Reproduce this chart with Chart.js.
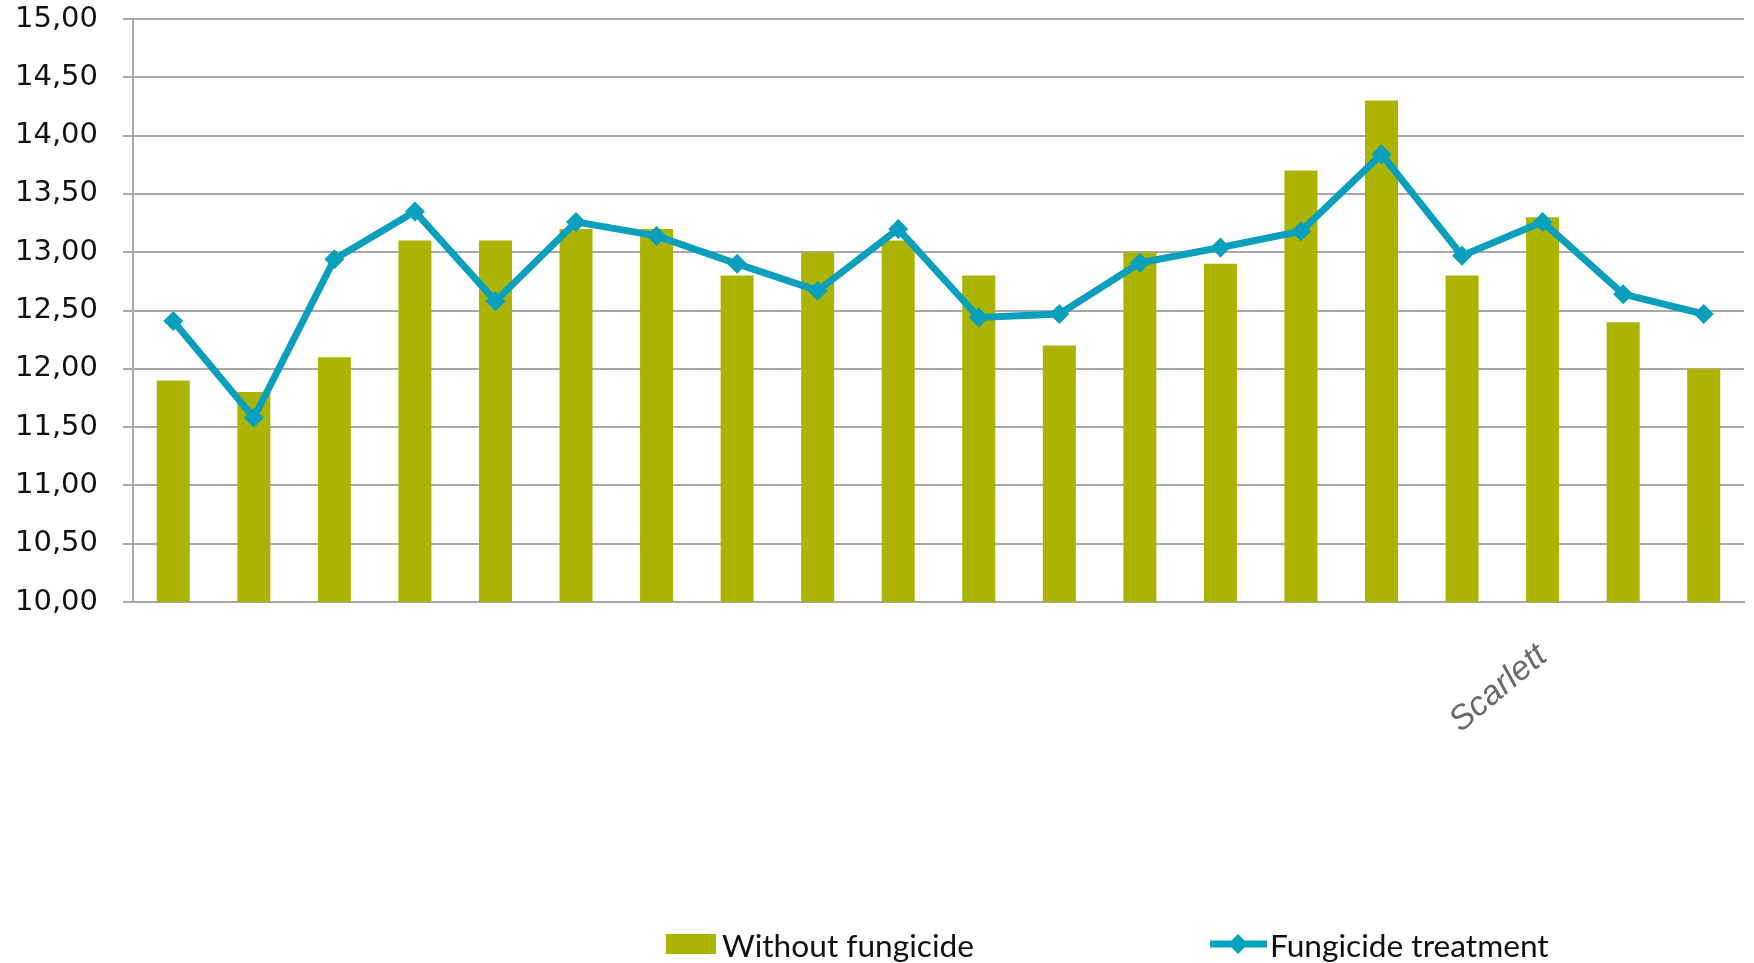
<!DOCTYPE html>
<html><head><meta charset="utf-8">
<script src="https://cdn.jsdelivr.net/npm/chart.js@4.4.1/dist/chart.umd.min.js"></script>
<style>html,body{margin:0;padding:0;background:#fff;}#wrap{width:1754px;height:963px;position:relative;}</style>
</head><body><div id="wrap"><canvas id="c" width="1754" height="963"></canvas></div>
<script>
const categories = ['', '', '', '', '', '', '', '', '', '', '', '', '', '', '', '', '', 'Scarlett', '', ''];
const withoutFungicide = [11.90, 11.80, 12.10, 13.10, 13.10, 13.20, 13.20, 12.80, 13.00, 13.10, 12.80, 12.20, 13.00, 12.90, 13.70, 14.30, 12.80, 13.30, 12.40, 12.00];
const fungicideTreatment = [12.41, 11.58, 12.94, 13.35, 12.58, 13.26, 13.14, 12.90, 12.67, 13.20, 12.44, 12.47, 12.91, 13.04, 13.18, 13.84, 12.97, 13.26, 12.64, 12.47];
const seriesNames = ['Without fungicide', 'Fungicide treatment'];
const yMin = 10, yMax = 15, yStep = 0.5;

const BAR_COLOR = '#abb400';
const LINE_COLOR = '#0aa0bd';
const GRID_COLOR = '#a8a8a8';

const legendPlugin = {
  id: 'customLegend',
  afterDraw(chart) {
    const ctx = chart.ctx;
    ctx.save();
    const cy = 947;
    let size = 30;
    ctx.font = size + 'px Lato';
    const w = ctx.measureText(seriesNames[0]).width;
    size = size * 252 / w;
    ctx.font = size + 'px Lato';
    ctx.fillStyle = BAR_COLOR;
    ctx.fillRect(666, cy - 13, 50, 20);
    ctx.fillStyle = '#111';
    ctx.textBaseline = 'middle';
    ctx.textAlign = 'left';
    ctx.fillText(seriesNames[0], 722, cy);
    ctx.strokeStyle = LINE_COLOR;
    ctx.lineWidth = 7;
    ctx.beginPath();
    ctx.moveTo(1210, cy - 3);
    ctx.lineTo(1267, cy - 3);
    ctx.stroke();
    ctx.fillStyle = LINE_COLOR;
    ctx.beginPath();
    const dx = 1238, dy = cy - 3, r = 10;
    ctx.moveTo(dx, dy - r); ctx.lineTo(dx + r, dy); ctx.lineTo(dx, dy + r); ctx.lineTo(dx - r, dy); ctx.closePath();
    ctx.fill();
    ctx.fillStyle = '#111';
    ctx.fillText(seriesNames[1], 1270, cy);
    ctx.restore();
  }
};

new Chart(document.getElementById('c'), {
  type: 'bar',
  data: {
    labels: categories,
    datasets: [
      {
        type: 'line',
        label: seriesNames[1],
        data: fungicideTreatment,
        borderColor: LINE_COLOR,
        backgroundColor: LINE_COLOR,
        borderWidth: 7,
        pointStyle: 'rectRot',
        pointRadius: 10,
        pointBorderWidth: 0,
        pointBackgroundColor: LINE_COLOR,
        tension: 0,
        order: 1
      },
      {
        type: 'bar',
        label: seriesNames[0],
        data: withoutFungicide,
        backgroundColor: BAR_COLOR,
        barPercentage: 0.41,
        categoryPercentage: 1,
        order: 2
      }
    ]
  },
  options: {
    responsive: false,
    animation: false,
    devicePixelRatio: 1,
    layout: { padding: { top: 19, right: 3, left: 0, bottom: 0 } },
    plugins: { legend: { display: false }, tooltip: { enabled: false } },
    scales: {
      x: {
        grid: { display: false, drawTicks: false },
        border: { display: true, color: GRID_COLOR, width: 2 },
        ticks: {
          autoSkip: false, maxRotation: 40, minRotation: 40, padding: 34,
          color: '#6a6a6a',
          font: { family: 'Liberation Sans', size: 34, style: 'italic' }
        },
        afterFit: s => { s.height = 361; s.paddingLeft = 0; s.paddingRight = 0; }
      },
      y: {
        min: yMin, max: yMax,
        ticks: {
          stepSize: yStep, padding: 25, color: '#111',
          font: { family: 'DejaVu Sans', size: 29 },
          callback: v => Number(v).toFixed(2).replace('.', ',')
        },
        grid: { color: GRID_COLOR, lineWidth: 2, tickLength: 10 },
        border: { display: true, color: GRID_COLOR, width: 2 },
        afterFit: s => { s.width = 133; s.paddingTop = 0; s.paddingBottom = 0; }
      }
    }
  },
  plugins: [legendPlugin]
});
</script></body></html>
